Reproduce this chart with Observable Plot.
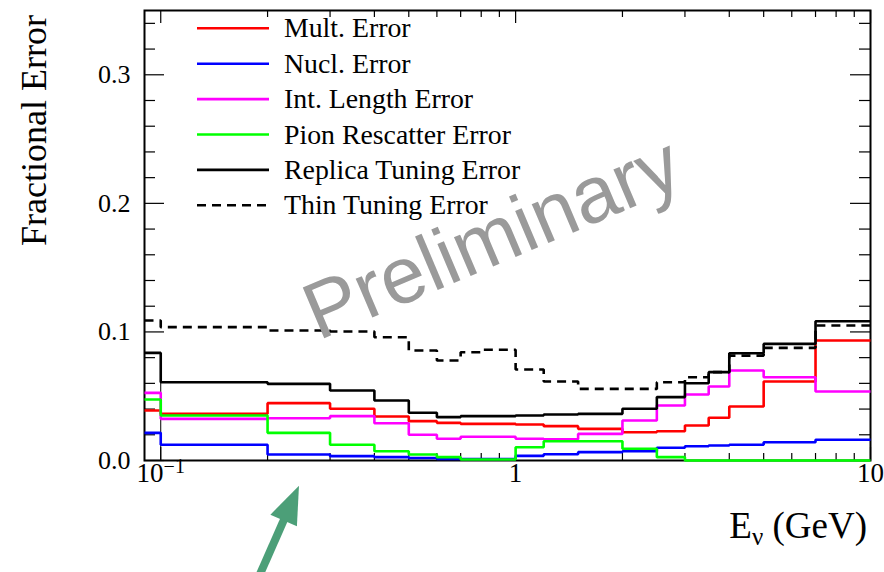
<!DOCTYPE html>
<html>
<head>
<meta charset="utf-8">
<script src="https://cdn.jsdelivr.net/npm/d3@7"></script>
<script src="https://cdn.jsdelivr.net/npm/@observablehq/plot@0.6"></script>
<style>
  html, body { margin: 0; padding: 0; background: #ffffff; }
  svg { display: block; }
</style>
</head>
<body>
<div id="chart"></div>
<script>
// Neutrino energy bin edges (GeV)
const edges = [0.09, 0.1, 0.2, 0.3, 0.4, 0.5, 0.6, 0.7, 0.8, 1.0, 1.2, 1.5, 2.0, 2.5, 3.0, 3.5, 4.0, 5.0, 7.0, 10];

// Fractional error per bin, one array per error source
const multError      = [0.0389, 0.0363, 0.0446, 0.0402, 0.0342, 0.0306, 0.0293, 0.0285, 0.0285, 0.0280, 0.0267, 0.0246, 0.0220, 0.0228, 0.0272, 0.0332, 0.0420, 0.0614, 0.0933];
const nuclError      = [0.0215, 0.0122, 0.0047, 0.0034, 0.0026, 0.0020, 0.0012, 0.0012, 0.0012, 0.0036, 0.0049, 0.0065, 0.0072, 0.0099, 0.0111, 0.0117, 0.0122, 0.0142, 0.0161];
const intLenError    = [0.0526, 0.0324, 0.0329, 0.0345, 0.0290, 0.0200, 0.0169, 0.0185, 0.0185, 0.0169, 0.0165, 0.0207, 0.0311, 0.0428, 0.0513, 0.0575, 0.0700, 0.0648, 0.0537];
const pionRescError  = [0.0474, 0.0350, 0.0215, 0.0122, 0.0072, 0.0047, 0.0026, 0.0008, 0.0008, 0.0103, 0.0150, 0.0150, 0.0091, 0.0026, 0.0000, 0.0000, 0.0000, 0.0000, 0.0000];
const replicaError   = [0.0837, 0.0609, 0.0596, 0.0544, 0.0467, 0.0371, 0.0337, 0.0345, 0.0345, 0.0350, 0.0358, 0.0363, 0.0402, 0.0493, 0.0601, 0.0687, 0.0834, 0.0907, 0.1083];
const thinError      = [0.1089, 0.1037, 0.1011, 0.1003, 0.0959, 0.0855, 0.0778, 0.0842, 0.0861, 0.0708, 0.0614, 0.0557, 0.0557, 0.0609, 0.0648, 0.0687, 0.0816, 0.0876, 0.1050];

const seriesNames = ["Mult. Error", "Nucl. Error", "Int. Length Error", "Pion Rescatter Error", "Replica Tuning Error", "Thin Tuning Error"];

// Axis ticks
const xMajorTicks = [0.1, 1, 10];
const xMinorTicks = [0.2, 0.3, 0.4, 0.5, 0.6, 0.7, 0.8, 0.9, 2, 3, 4, 5, 6, 7, 8, 9];
const yMajorTicks = [0, 0.1, 0.2, 0.3];
const yMinorTicks = [0.02, 0.04, 0.06, 0.08, 0.12, 0.14, 0.16, 0.18, 0.22, 0.24, 0.26, 0.28, 0.32, 0.34];

// Annotation arrow (data coordinates: tail -> tip)
const arrowTail = {x: 0.1906, y: -0.0894};
const arrowTip  = {x: 0.246,  y: -0.020};

const series = [
  {name: seriesNames[0], values: multError,     color: "#ff0000", dash: null},
  {name: seriesNames[1], values: nuclError,     color: "#0000ff", dash: null},
  {name: seriesNames[2], values: intLenError,   color: "#ff00ff", dash: null},
  {name: seriesNames[3], values: pionRescError, color: "#00ff00", dash: null},
  {name: seriesNames[4], values: replicaError,  color: "#000000", dash: null},
  {name: seriesNames[5], values: thinError,     color: "#000000", dash: "9,6"}
];

// Turn per-bin values into step points (one extra point closes the last bin)
function stepPoints(values) {
  const pts = values.map((v, i) => ({x: edges[i], y: v}));
  pts.push({x: edges[edges.length - 1], y: values[values.length - 1]});
  return pts;
}

const W = 884, H = 572;
const mL = 144, mR = 14, mT = 10, mB = 112;
const innerW = W - mL - mR, innerH = H - mT - mB;
const lineW = 2.6;

const serif = "'Liberation Serif', 'Times New Roman', serif";

const marks = [
  Plot.frame({stroke: "#000", strokeWidth: 2}),
  // thin edge line at the start of the main binning
  Plot.ruleX([edges[1]], {x: d => d, y1: 0, y2: replicaError[1], stroke: "#000", strokeWidth: 1}),
  // inward ticks on all four sides
  Plot.tickX(xMinorTicks, {x: d => d, insetTop: innerH - 7, stroke: "#000", strokeWidth: 1.2}),
  Plot.tickX(xMinorTicks, {x: d => d, insetBottom: innerH - 7, stroke: "#000", strokeWidth: 1.2}),
  Plot.tickX(xMajorTicks, {x: d => d, insetTop: innerH - 13, stroke: "#000", strokeWidth: 1.2}),
  Plot.tickX(xMajorTicks, {x: d => d, insetBottom: innerH - 13, stroke: "#000", strokeWidth: 1.2}),
  Plot.tickY(yMinorTicks, {y: d => d, insetRight: innerW - 11, stroke: "#000", strokeWidth: 1.2}),
  Plot.tickY(yMinorTicks, {y: d => d, insetLeft: innerW - 11, stroke: "#000", strokeWidth: 1.2}),
  Plot.tickY(yMajorTicks, {y: d => d, insetRight: innerW - 20, stroke: "#000", strokeWidth: 1.2}),
  Plot.tickY(yMajorTicks, {y: d => d, insetLeft: innerW - 20, stroke: "#000", strokeWidth: 1.2}),
  ...series.map(s => Plot.line(stepPoints(s.values), {
    x: "x", y: "y", curve: "step-after", stroke: s.color, strokeWidth: lineW,
    strokeDasharray: s.dash, strokeLinejoin: "miter", strokeLinecap: "butt"
  })),
  Plot.axisX(xMajorTicks, {
    tickSize: 0, tickPadding: 2, label: null, fontSize: 27,
    tickFormat: d => d === 0.1 ? "10\u207B\u00B9" : String(d)
  }),
  Plot.axisY(yMajorTicks, {
    tickSize: 0, tickPadding: 14, label: null, fontSize: 26,
    tickFormat: d => d.toFixed(1)
  })
];

const chart = Plot.plot({
  width: W, height: H,
  marginLeft: mL, marginRight: mR, marginTop: mT, marginBottom: mB,
  x: {type: "log", domain: [0.09, 10]},
  y: {domain: [0, 0.35]},
  style: {fontFamily: serif, fontSize: "26px", color: "#000", background: "#fff"},
  marks
});

document.getElementById("chart").appendChild(chart);

const svg = d3.select(chart);

// Render the 10^-1 label with a real superscript
svg.selectAll("text").each(function () {
  if (this.textContent === "10\u207B\u00B9") {
    const t = d3.select(this);
    t.text("10");
    t.append("tspan").attr("dy", "-0.45em").attr("font-size", "20px").text("\u22121");
  }
});

// Axis titles
svg.append("text")
  .attr("transform", "translate(46,15) rotate(-90)")
  .attr("text-anchor", "end")
  .attr("font-family", serif).attr("font-size", 36).attr("fill", "#000")
  .text("Fractional Error");

const xt = svg.append("text")
  .attr("x", 867).attr("y", 538)
  .attr("text-anchor", "end")
  .attr("font-family", serif).attr("font-size", 37).attr("fill", "#000");
xt.append("tspan").text("E");
xt.append("tspan").attr("font-size", 25).attr("dy", 7).text("\u03BD");
xt.append("tspan").attr("dy", -7).text(" (GeV)");

// Legend
const legend = svg.append("g").attr("text-anchor", "start");
const legendY0 = 28.3, legendStep = 35.4;
series.forEach((s, i) => {
  const y = legendY0 + i * legendStep;
  legend.append("line")
    .attr("x1", 197).attr("x2", 269).attr("y1", y).attr("y2", y)
    .attr("stroke", s.color).attr("stroke-width", lineW)
    .attr("stroke-dasharray", s.dash);
  legend.append("text")
    .attr("x", 284).attr("y", y + 9)
    .attr("text-anchor", "start")
    .attr("font-family", serif).attr("font-size", 27.8).attr("fill", "#000")
    .text(s.name);
});

// Watermark
svg.append("text")
  .attr("transform", "translate(491,236) rotate(-23)")
  .attr("text-anchor", "middle").attr("dy", "0.36em")
  .attr("font-family", "'Liberation Sans', Arial, sans-serif")
  .attr("font-size", 80).attr("fill", "#9a9a9a")
  .text("Preliminary");

// Annotation arrow below the axis
const sx = chart.scale("x"), sy = chart.scale("y");
const tx = sx.apply(arrowTail.x), ty = sy.apply(arrowTail.y);
const hx = sx.apply(arrowTip.x),  hy = sy.apply(arrowTip.y);
const len = Math.hypot(hx - tx, hy - ty);
const ux = (hx - tx) / len, uy = (hy - ty) / len;
const headLen = 38, headHalf = 14.5;
const bx = hx - ux * headLen, by = hy - uy * headLen;
const arrowColor = "#4c9f78";
svg.append("line")
  .attr("x1", tx).attr("y1", ty).attr("x2", bx + ux * 2).attr("y2", by + uy * 2)
  .attr("stroke", arrowColor).attr("stroke-width", 8);
svg.append("path")
  .attr("d", `M${hx},${hy}L${bx - uy * headHalf},${by + ux * headHalf}L${bx + uy * headHalf},${by - ux * headHalf}Z`)
  .attr("fill", arrowColor);
</script>
</body>
</html>
